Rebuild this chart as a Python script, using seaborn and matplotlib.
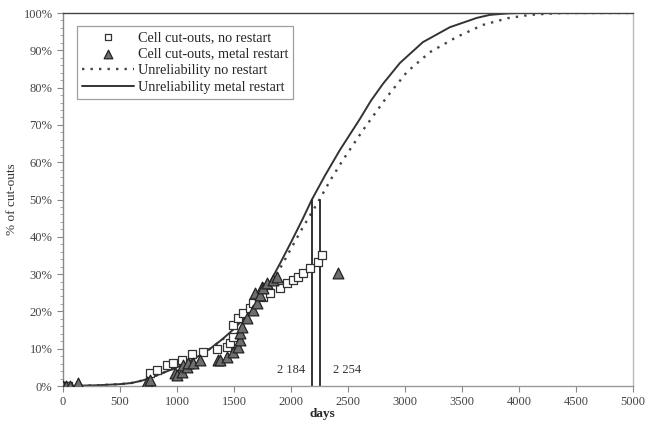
import numpy as np
import pandas as pd
import matplotlib
matplotlib.use('Agg')
import matplotlib.pyplot as plt
from matplotlib.ticker import MultipleLocator, FuncFormatter
import seaborn as sns

# Cell cut-outs, no restart (days, % of cut-outs)
no_restart_days = [0, 20, 45, 763, 825, 912, 965, 1044, 1132, 1228, 1351, 1439, 1465,
                   1491, 1491, 1535, 1579, 1640, 1667, 1754, 1816, 1904, 1965, 2018,
                   2061, 2105, 2167, 2237, 2272]
no_restart_pct = [0, 0, 0, 3.5, 4.3, 5.6, 6.1, 7.0, 8.6, 9.2, 9.9, 10.5, 11.5,
                  13.1, 16.4, 18.2, 19.6, 20.9, 22.3, 23.9, 24.9, 26.3, 27.6, 28.4,
                  29.2, 30.3, 31.6, 33.2, 35.1]

# Cell cut-outs, metal restart
metal_days = [0, 30, 60, 132, 737, 763, 982, 1000, 1044, 1053, 1088, 1096, 1140, 1202,
              1360, 1377, 1439, 1491, 1535, 1553, 1553, 1570, 1614, 1667, 1684, 1702,
              1728, 1746, 1754, 1790, 1842, 1877, 2412]
metal_pct = [0, 0, 0, 0.9, 1.1, 1.6, 3.5, 2.9, 3.8, 5.6, 5.1, 6.1, 6.1, 7.0,
             7.0, 7.0, 7.8, 9.2, 10.5, 12.3, 14.2, 15.8, 18.2, 20.4, 24.9, 22.3,
             24.4, 26.5, 26.3, 27.6, 28.4, 29.2, 30.3]

# Unreliability curves
curve_no_days = [0, 300, 500, 600, 700, 800, 900, 1000, 1100, 1200, 1300, 1400, 1500,
                 1600, 1700, 1800, 1900, 2000, 2100, 2200, 2254, 2350, 2456, 2632,
                 2842, 3018, 3219, 3456, 3684, 3900, 4096, 4300, 4400, 5000]
curve_no_pct = [0, 0.2, 0.5, 0.8, 1.5, 2.6, 3.8, 5.0, 6.5, 8.2, 10.2, 12.5, 15.0,
                18.0, 21.8, 26.3, 31.3, 36.8, 42.3, 47.4, 50.2, 55.4, 60.6, 68.6,
                77.5, 84.2, 89.5, 93.6, 96.8, 98.6, 99.5, 99.9, 100, 100]

curve_metal_days = [0, 300, 500, 600, 700, 800, 900, 1000, 1100, 1200, 1300, 1400, 1500,
                    1600, 1700, 1800, 1900, 2000, 2100, 2184, 2300, 2430, 2605, 2700,
                    2807, 2956, 3158, 3395, 3632, 3746, 3900, 4000, 5000]
curve_metal_pct = [0, 0.2, 0.5, 0.8, 1.5, 2.6, 3.8, 5.0, 6.5, 8.2, 10.2, 12.6, 15.3,
                   18.5, 22.3, 27.0, 32.6, 38.5, 44.6, 50.0, 56.5, 63.3, 71.6, 76.4,
                   81.0, 86.6, 92.2, 96.2, 98.7, 99.5, 99.9, 100, 100]

medians = [2184, 2254]
median_labels = ['2 184', '2 254']

sns.set_style('white')
plt.rcParams['font.family'] = ['Liberation Serif', 'DejaVu Serif']

fig = plt.figure(figsize=(6.55, 4.21), dpi=100)
ax = fig.add_axes([0.0962, 0.0831, 0.870, 0.886])

sns.lineplot(x=curve_no_days, y=curve_no_pct, ax=ax, color='#444444', lw=1.7,
             linestyle=(0, (1, 2.6)), sort=False, estimator=None,
             label='Unreliability no restart')
sns.lineplot(x=curve_metal_days, y=curve_metal_pct, ax=ax, color='#333333', lw=1.4,
             sort=False, estimator=None, label='Unreliability metal restart')

sns.scatterplot(x=no_restart_days, y=no_restart_pct, ax=ax, marker='s', s=38,
                facecolor='white', edgecolor='#333333', linewidth=0.9, zorder=3,
                label='Cell cut-outs, no restart')
sns.scatterplot(x=metal_days, y=metal_pct, ax=ax, marker='^', s=60,
                facecolor='#6e6e6e', edgecolor='#222222', linewidth=0.9, zorder=4,
                label='Cell cut-outs, metal restart')

# median lines
for m in medians:
    ax.plot([m, m], [0, 50], color='#222222', lw=1.3)
ax.text(medians[0] - 60, 4.3, median_labels[0], ha='right', va='center', fontsize=9, color='#333333')
ax.text(medians[1] + 112, 4.3, median_labels[1], ha='left', va='center', fontsize=9, color='#333333')

ax.set_xlim(0, 5000)
ax.set_ylim(0, 100)
ax.xaxis.set_major_locator(MultipleLocator(500))
ax.yaxis.set_major_locator(MultipleLocator(10))
ax.yaxis.set_minor_locator(MultipleLocator(2))
ax.yaxis.set_major_formatter(FuncFormatter(lambda v, p: f'{int(v)}%'))
ax.tick_params(axis='both', which='major', direction='out', length=4, width=0.8,
               color='#888888', labelsize=9, labelcolor='#444444')
ax.tick_params(axis='y', which='minor', direction='out', length=2, width=0.6,
               color='#999999', left=True)
ax.tick_params(axis='x', bottom=True)
ax.tick_params(axis='y', left=True)

ax.set_xlabel('days', fontsize=9.5, fontweight='bold')
ax.xaxis.set_label_coords(0.455, -0.06)
ax.set_ylabel('% of cut-outs', fontsize=9.5, color='#333333')
ax.yaxis.set_label_coords(-0.079, 0.5)

ax.spines['left'].set_color('#888888')
ax.spines['bottom'].set_color('#999999')
ax.spines['right'].set_color('#bbbbbb')
ax.spines['top'].set_color('#444444')
for s in ax.spines.values():
    s.set_linewidth(1.0)

handles, labels = ax.get_legend_handles_labels()
order = [2, 3, 0, 1]
leg = ax.legend([handles[i] for i in order], [labels[i] for i in order],
                loc='upper left', bbox_to_anchor=(0.012, 0.985), fontsize=10.3,
                frameon=True, fancybox=False, edgecolor='#888888', handlelength=3.6,
                handletextpad=0.3, borderpad=0.35, labelspacing=0.25, markerscale=0.8)
leg.get_frame().set_linewidth(0.9)

fig.savefig('out.png', dpi=100)
